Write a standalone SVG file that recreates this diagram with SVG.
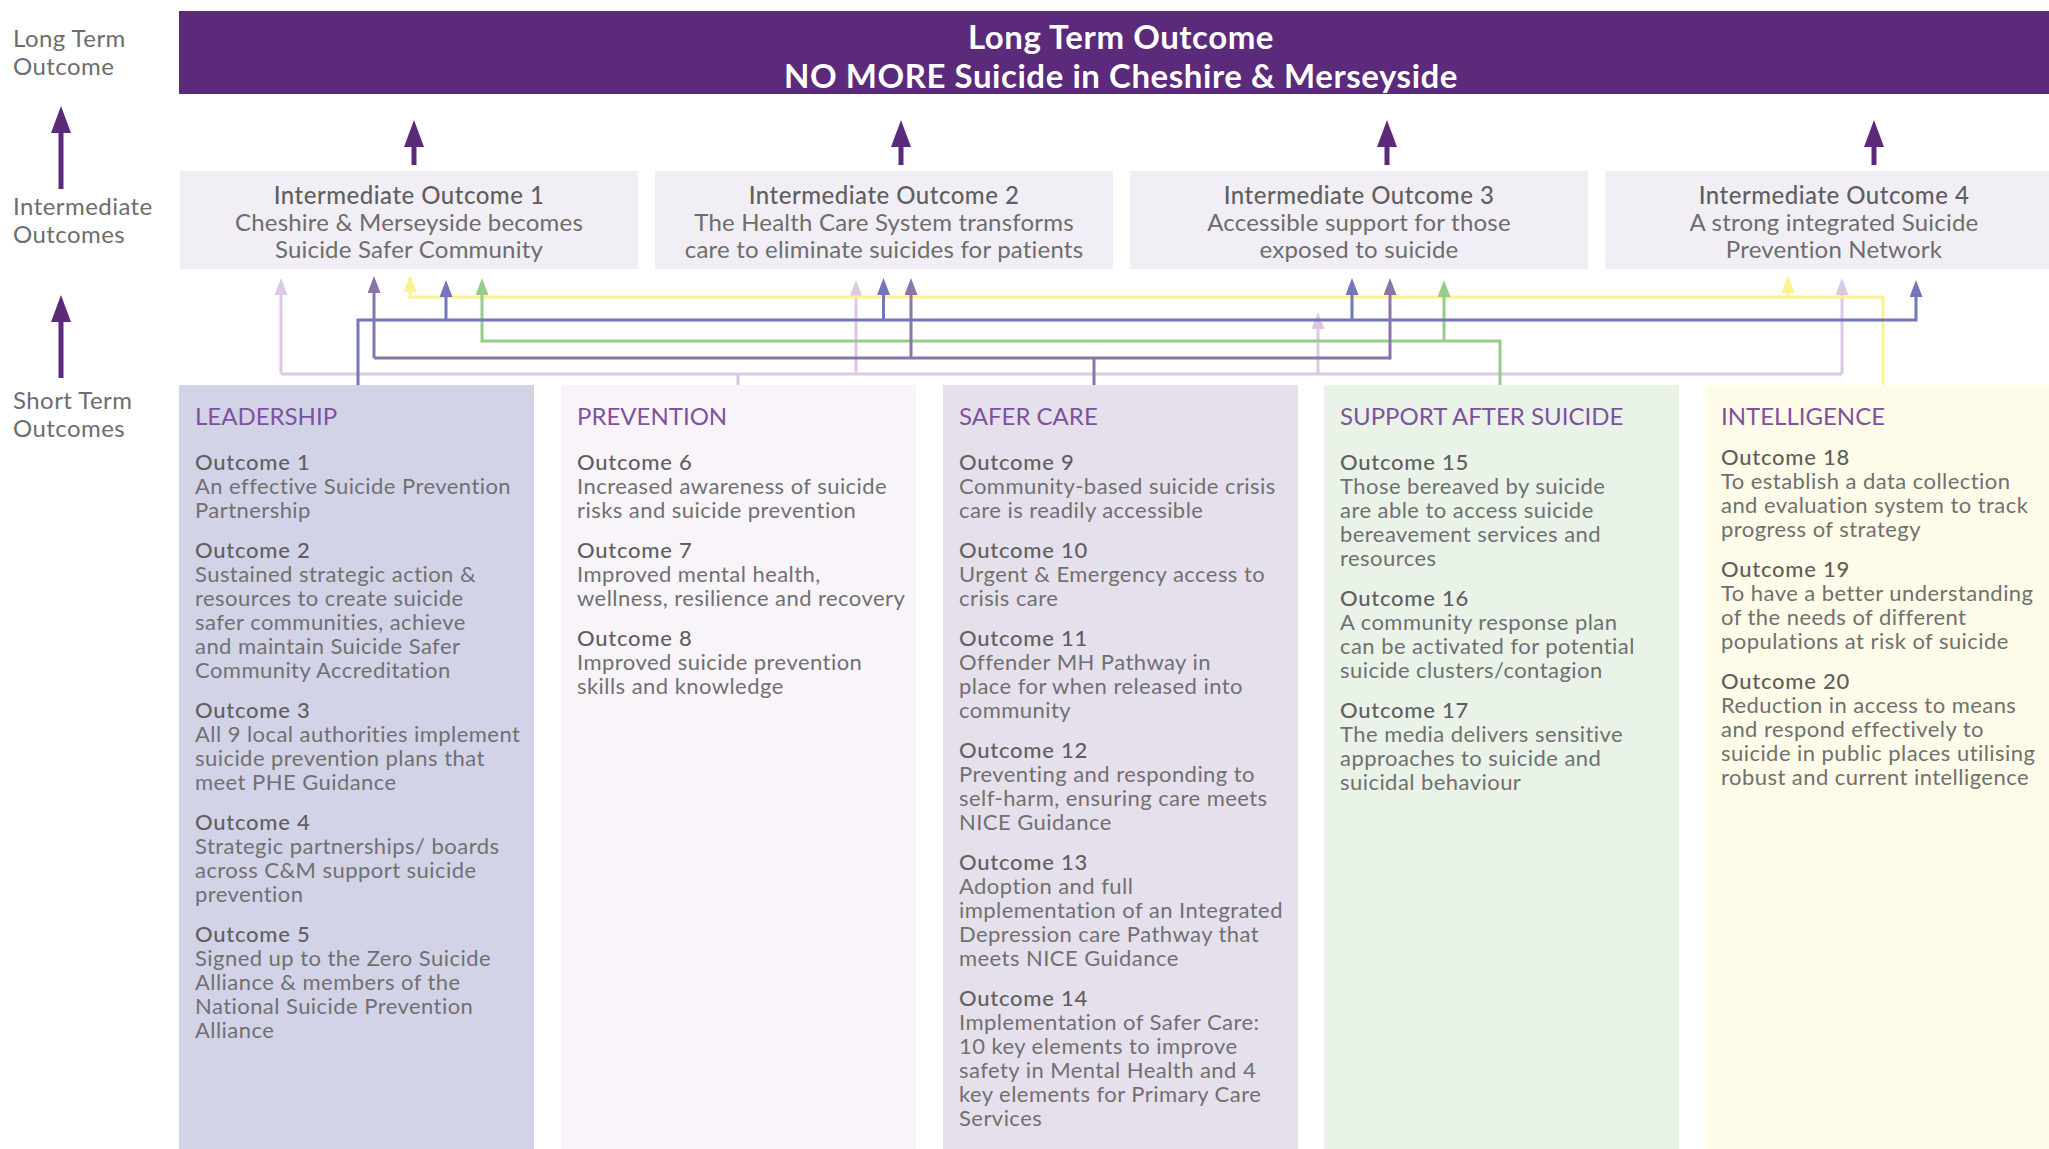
<svg xmlns="http://www.w3.org/2000/svg" width="2049" height="1149" viewBox="0 0 2049 1149">
<defs>
<style>
text { font-family: Lato, "Noto Sans", "Liberation Sans", sans-serif; }
.lbl { font-size: 24px; letter-spacing: 0.45px; fill: #6d6d6d; }
.ban { font-size: 33px; letter-spacing: 0.55px; font-weight: 700; fill: #ffffff; text-anchor: middle; }
.ibox { fill: #f2eef5; }
.it { font-size: 24px; letter-spacing: 0.2px; fill: #6d6d6d; text-anchor: middle; }
.it .t { font-weight: 500; letter-spacing: 0.5px; fill: #5f5f5f; }
.hd { font-size: 24px; fill: #7e529e; }
.ot { font-size: 22px; letter-spacing: 0.75px; font-weight: 500; fill: #5f5f5f; }
.bd { font-size: 22px; letter-spacing: 0.45px; fill: #707070; }
.big { fill: none; stroke: #5b2a7b; stroke-width: 5; marker-end: url(#mBig); }
.c { fill: none; stroke-width: 3; }
.pk { stroke: #dcc8e2; }
.pu { stroke: #8b74a6; }
.bl { stroke: #7276bb; }
.gr { stroke: #97cc8b; }
.ye { stroke: #fcf38a; }
</style>
<marker id="mBig" markerUnits="userSpaceOnUse" viewBox="0 0 27 20" markerWidth="27" markerHeight="20" refX="17" refY="10" orient="auto"><path d="M0,0 L27,10 L0,20 Z" fill="#5b2a7b"/></marker>
<marker id="mPk" markerUnits="userSpaceOnUse" viewBox="0 0 17 13" markerWidth="17" markerHeight="13" refX="7" refY="6.5" orient="auto"><path d="M0,0 L17,6.5 L0,13 Z" fill="#dcc8e2"/></marker>
<marker id="mPu" markerUnits="userSpaceOnUse" viewBox="0 0 17 13" markerWidth="17" markerHeight="13" refX="7" refY="6.5" orient="auto"><path d="M0,0 L17,6.5 L0,13 Z" fill="#8b74a6"/></marker>
<marker id="mBl" markerUnits="userSpaceOnUse" viewBox="0 0 17 13" markerWidth="17" markerHeight="13" refX="7" refY="6.5" orient="auto"><path d="M0,0 L17,6.5 L0,13 Z" fill="#7276bb"/></marker>
<marker id="mGr" markerUnits="userSpaceOnUse" viewBox="0 0 17 13" markerWidth="17" markerHeight="13" refX="7" refY="6.5" orient="auto"><path d="M0,0 L17,6.5 L0,13 Z" fill="#97cc8b"/></marker>
<marker id="mYe" markerUnits="userSpaceOnUse" viewBox="0 0 17 13" markerWidth="17" markerHeight="13" refX="7" refY="6.5" orient="auto"><path d="M0,0 L17,6.5 L0,13 Z" fill="#fcf38a"/></marker>
</defs>
<rect width="2049" height="1149" fill="#ffffff"/>

<g id="labels">
<text class="lbl"><tspan x="13" y="47">Long Term</tspan><tspan x="13" y="75">Outcome</tspan></text>
<text class="lbl"><tspan x="13" y="215">Intermediate</tspan><tspan x="13" y="243">Outcomes</tspan></text>
<text class="lbl"><tspan x="13" y="409">Short Term</tspan><tspan x="13" y="437">Outcomes</tspan></text>
<path class="big" d="M61 189 V116"/>
<path class="big" d="M61 378 V305"/>
</g>

<g id="banner">
<rect x="179" y="11" width="1884" height="83" fill="#5b2a7b"/>
<text class="ban"><tspan x="1121" y="49">Long Term Outcome</tspan><tspan x="1121" y="88">NO MORE Suicide in Cheshire &amp; Merseyside</tspan></text>
</g>

<g id="long-term-arrows">
<path class="big" d="M414 165 V130"/>
<path class="big" d="M901 165 V130"/>
<path class="big" d="M1387 165 V130"/>
<path class="big" d="M1874 165 V130"/>
</g>

<g id="io1">
<rect class="ibox" x="180" y="171" width="458" height="98"/>
<text class="it"><tspan class="t" x="409" y="204">Intermediate Outcome 1</tspan><tspan x="409" y="231">Cheshire &amp; Merseyside becomes</tspan><tspan x="409" y="258">Suicide Safer Community</tspan></text>
</g>
<g id="io2">
<rect class="ibox" x="655" y="171" width="458" height="98"/>
<text class="it"><tspan class="t" x="884" y="204">Intermediate Outcome 2</tspan><tspan x="884" y="231">The Health Care System transforms</tspan><tspan x="884" y="258">care to eliminate suicides for patients</tspan></text>
</g>
<g id="io3">
<rect class="ibox" x="1130" y="171" width="458" height="98"/>
<text class="it"><tspan class="t" x="1359" y="204">Intermediate Outcome 3</tspan><tspan x="1359" y="231">Accessible support for those</tspan><tspan x="1359" y="258">exposed to suicide</tspan></text>
</g>
<g id="io4">
<rect class="ibox" x="1605" y="171" width="458" height="98"/>
<text class="it"><tspan class="t" x="1834" y="204">Intermediate Outcome 4</tspan><tspan x="1834" y="231">A strong integrated Suicide</tspan><tspan x="1834" y="258">Prevention Network</tspan></text>
</g>

<g id="leadership">
<rect x="179" y="385" width="355" height="764" fill="#d3d3e8"/>
<text class="hd" x="195" y="425">LEADERSHIP</text>
<text class="ot" x="195" y="470">Outcome 1</text>
<text class="bd"><tspan x="195" y="494">An effective Suicide Prevention</tspan><tspan x="195" y="518">Partnership</tspan></text>
<text class="ot" x="195" y="558">Outcome 2</text>
<text class="bd"><tspan x="195" y="582">Sustained strategic action &amp;</tspan><tspan x="195" y="606">resources to create suicide</tspan><tspan x="195" y="630">safer communities, achieve</tspan><tspan x="195" y="654">and maintain Suicide Safer</tspan><tspan x="195" y="678">Community Accreditation</tspan></text>
<text class="ot" x="195" y="718">Outcome 3</text>
<text class="bd"><tspan x="195" y="742">All 9 local authorities implement</tspan><tspan x="195" y="766">suicide prevention plans that</tspan><tspan x="195" y="790">meet PHE Guidance</tspan></text>
<text class="ot" x="195" y="830">Outcome 4</text>
<text class="bd"><tspan x="195" y="854">Strategic partnerships/ boards</tspan><tspan x="195" y="878">across C&amp;M support suicide</tspan><tspan x="195" y="902">prevention</tspan></text>
<text class="ot" x="195" y="942">Outcome 5</text>
<text class="bd"><tspan x="195" y="966">Signed up to the Zero Suicide</tspan><tspan x="195" y="990">Alliance &amp; members of the</tspan><tspan x="195" y="1014">National Suicide Prevention</tspan><tspan x="195" y="1038">Alliance</tspan></text>
</g>

<g id="prevention">
<rect x="561" y="385" width="355" height="764" fill="#f8f4fa"/>
<text class="hd" x="577" y="425">PREVENTION</text>
<text class="ot" x="577" y="470">Outcome 6</text>
<text class="bd"><tspan x="577" y="494">Increased awareness of suicide</tspan><tspan x="577" y="518">risks and suicide prevention</tspan></text>
<text class="ot" x="577" y="558">Outcome 7</text>
<text class="bd"><tspan x="577" y="582">Improved mental health,</tspan><tspan x="577" y="606">wellness, resilience and recovery</tspan></text>
<text class="ot" x="577" y="646">Outcome 8</text>
<text class="bd"><tspan x="577" y="670">Improved suicide prevention</tspan><tspan x="577" y="694">skills and knowledge</tspan></text>
</g>

<g id="safer-care">
<rect x="943" y="385" width="355" height="764" fill="#e6e0ec"/>
<text class="hd" x="959" y="425">SAFER CARE</text>
<text class="ot" x="959" y="470">Outcome 9</text>
<text class="bd"><tspan x="959" y="494">Community-based suicide crisis</tspan><tspan x="959" y="518">care is readily accessible</tspan></text>
<text class="ot" x="959" y="558">Outcome 10</text>
<text class="bd"><tspan x="959" y="582">Urgent &amp; Emergency access to</tspan><tspan x="959" y="606">crisis care</tspan></text>
<text class="ot" x="959" y="646">Outcome 11</text>
<text class="bd"><tspan x="959" y="670">Offender MH Pathway in</tspan><tspan x="959" y="694">place for when released into</tspan><tspan x="959" y="718">community</tspan></text>
<text class="ot" x="959" y="758">Outcome 12</text>
<text class="bd"><tspan x="959" y="782">Preventing and responding to</tspan><tspan x="959" y="806">self-harm, ensuring care meets</tspan><tspan x="959" y="830">NICE Guidance</tspan></text>
<text class="ot" x="959" y="870">Outcome 13</text>
<text class="bd"><tspan x="959" y="894">Adoption and full</tspan><tspan x="959" y="918">implementation of an Integrated</tspan><tspan x="959" y="942">Depression care Pathway that</tspan><tspan x="959" y="966">meets NICE Guidance</tspan></text>
<text class="ot" x="959" y="1006">Outcome 14</text>
<text class="bd"><tspan x="959" y="1030">Implementation of Safer Care:</tspan><tspan x="959" y="1054">10 key elements to improve</tspan><tspan x="959" y="1078">safety in Mental Health and 4</tspan><tspan x="959" y="1102">key elements for Primary Care</tspan><tspan x="959" y="1126">Services</tspan></text>
</g>

<g id="support-after-suicide">
<rect x="1324" y="385" width="355" height="764" fill="#eaf3e8"/>
<text class="hd" x="1340" y="425">SUPPORT AFTER SUICIDE</text>
<text class="ot" x="1340" y="470">Outcome 15</text>
<text class="bd"><tspan x="1340" y="494">Those bereaved by suicide</tspan><tspan x="1340" y="518">are able to access suicide</tspan><tspan x="1340" y="542">bereavement services and</tspan><tspan x="1340" y="566">resources</tspan></text>
<text class="ot" x="1340" y="606">Outcome 16</text>
<text class="bd"><tspan x="1340" y="630">A community response plan</tspan><tspan x="1340" y="654">can be activated for potential</tspan><tspan x="1340" y="678">suicide clusters/contagion</tspan></text>
<text class="ot" x="1340" y="718">Outcome 17</text>
<text class="bd"><tspan x="1340" y="742">The media delivers sensitive</tspan><tspan x="1340" y="766">approaches to suicide and</tspan><tspan x="1340" y="790">suicidal behaviour</tspan></text>
</g>

<g id="intelligence">
<rect x="1705" y="385" width="355" height="764" fill="#fefbe8"/>
<text class="hd" x="1721" y="425">INTELLIGENCE</text>
<text class="ot" x="1721" y="465">Outcome 18</text>
<text class="bd"><tspan x="1721" y="489">To establish a data collection</tspan><tspan x="1721" y="513">and evaluation system to track</tspan><tspan x="1721" y="537">progress of strategy</tspan></text>
<text class="ot" x="1721" y="577">Outcome 19</text>
<text class="bd"><tspan x="1721" y="601">To have a better understanding</tspan><tspan x="1721" y="625">of the needs of different</tspan><tspan x="1721" y="649">populations at risk of suicide</tspan></text>
<text class="ot" x="1721" y="689">Outcome 20</text>
<text class="bd"><tspan x="1721" y="713">Reduction in access to means</tspan><tspan x="1721" y="737">and respond effectively to</tspan><tspan x="1721" y="761">suicide in public places utilising</tspan><tspan x="1721" y="785">robust and current intelligence</tspan></text>
</g>

<g id="connectors">
<!-- Prevention (pink) -->
<path class="c pk" d="M738 385 V374 M281 374 H1842"/>
<path class="c pk" d="M281 374 V288" marker-end="url(#mPk)"/>
<path class="c pk" d="M856 374 V290" marker-end="url(#mPk)"/>
<path class="c pk" d="M1318 374 V322" marker-end="url(#mPk)"/>
<path class="c pk" d="M1842 374 V288" marker-end="url(#mPk)"/>
<!-- Intelligence (yellow) -->
<path class="c ye" d="M1883 385 V297 H410 V285" marker-end="url(#mYe)"/>
<path class="c ye" d="M1788 297 V286" marker-end="url(#mYe)"/>
<!-- Support after suicide (green) -->
<path class="c gr" d="M1500 385 V341 H482 V288" marker-end="url(#mGr)"/>
<path class="c gr" d="M1444 341 V290" marker-end="url(#mGr)"/>
<!-- Safer care (purple) -->
<path class="c pu" d="M1094 385 V358 M374 358 H1390"/>
<path class="c pu" d="M374 358 V286" marker-end="url(#mPu)"/>
<path class="c pu" d="M911 358 V288" marker-end="url(#mPu)"/>
<path class="c pu" d="M1390 359.5 V288" marker-end="url(#mPu)"/>
<!-- Leadership (blue) -->
<path class="c bl" d="M358 385 V320 H1916 V290" marker-end="url(#mBl)"/>
<path class="c bl" d="M446 320 V290" marker-end="url(#mBl)"/>
<path class="c bl" d="M883.5 320 V288" marker-end="url(#mBl)"/>
<path class="c bl" d="M1352 320 V288" marker-end="url(#mBl)"/>
</g>
</svg>
